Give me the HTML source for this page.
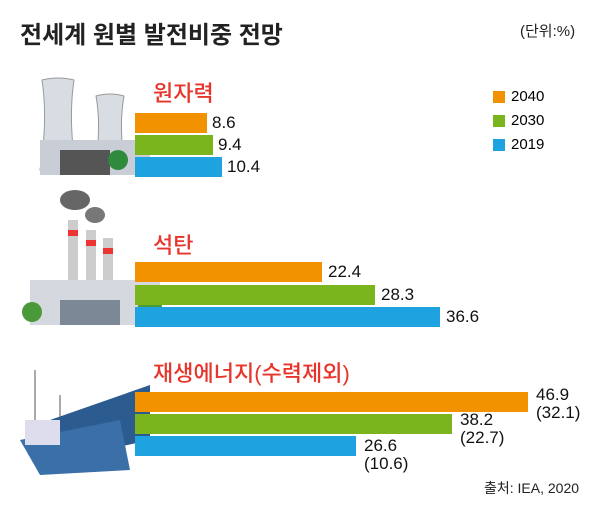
<!DOCTYPE html>
<html><head><meta charset="utf-8"><style>
body{margin:0;width:600px;height:510px;background:#fff;position:relative;overflow:hidden;font-family:"Liberation Sans","Noto Sans CJK KR",sans-serif;}
.a{position:absolute}
.bar{position:absolute;height:20px}
.o{background:#f39200}.g{background:#7ab51d}.b{background:#1ea2e0}
.lb{position:absolute;font-size:17px;color:#111;line-height:18px}
.t{position:absolute;font-size:22px;color:#e8352b;font-weight:500}
</style></head><body>
<div class="a" style="left:20px;top:15px;font-size:24px;font-weight:bold;color:#222">전세계 원별 발전비중 전망</div>
<div class="a" style="left:520px;top:20px;font-size:15px;color:#222">(단위:%)</div>

<div class="a" style="left:493px;top:91px;width:12px;height:12px;background:#f39200"></div>
<div class="a" style="left:511px;top:88px;font-size:15px">2040</div>
<div class="a" style="left:493px;top:115px;width:12px;height:12px;background:#7ab51d"></div>
<div class="a" style="left:511px;top:112px;font-size:15px">2030</div>
<div class="a" style="left:493px;top:139px;width:12px;height:12px;background:#1ea2e0"></div>
<div class="a" style="left:511px;top:136px;font-size:15px">2019</div>

<svg class="a" style="left:0;top:0" width="600" height="510">
<path d="M42 80 Q58 76 74 80 Q68 120 76 170 L40 170 Q48 120 42 80Z" fill="#d8dde3" stroke="#999"/>
<path d="M96 96 Q110 92 124 96 Q118 130 126 170 L94 170 Q102 130 96 96Z" fill="#d8dde3" stroke="#999"/>
<rect x="40" y="140" width="110" height="35" fill="#c9ced6"/>
<rect x="60" y="150" width="50" height="25" fill="#555"/>
<circle cx="118" cy="160" r="10" fill="#2f8a3b"/>
<ellipse cx="75" cy="200" rx="15" ry="10" fill="#666"/>
<ellipse cx="95" cy="215" rx="10" ry="8" fill="#777"/>
<rect x="68" y="220" width="10" height="70" fill="#ccc"/><rect x="68" y="230" width="10" height="6" fill="#e33"/>
<rect x="86" y="230" width="10" height="60" fill="#ccc"/><rect x="86" y="240" width="10" height="6" fill="#e33"/>
<rect x="103" y="238" width="10" height="52" fill="#ccc"/><rect x="103" y="248" width="10" height="6" fill="#e33"/>
<rect x="30" y="280" width="130" height="45" fill="#d5d9df"/>
<rect x="60" y="300" width="60" height="25" fill="#7d8896"/>
<circle cx="32" cy="312" r="10" fill="#4a9a3a"/><circle cx="150" cy="305" r="12" fill="#4a9a3a"/>
<line x1="35" y1="370" x2="35" y2="430" stroke="#aaa" stroke-width="2"/>
<line x1="60" y1="395" x2="60" y2="430" stroke="#aaa" stroke-width="2"/>
<polygon points="50,420 150,385 150,440 60,460" fill="#2c5b8f"/>
<polygon points="20,440 120,420 130,470 40,475" fill="#3a6fa8"/>
<rect x="25" y="420" width="35" height="25" fill="#dde"/>
</svg>

<div class="t" style="left:153px;top:76px">원자력</div>
<div class="bar o" style="left:135px;top:113px;width:72px"></div>
<div class="bar g" style="left:135px;top:135px;width:78px"></div>
<div class="bar b" style="left:135px;top:157px;width:87px"></div>
<div class="lb" style="left:212px;top:114px">8.6</div>
<div class="lb" style="left:218px;top:136px">9.4</div>
<div class="lb" style="left:227px;top:158px">10.4</div>

<div class="t" style="left:153px;top:228px">석탄</div>
<div class="bar o" style="left:135px;top:262px;width:187px"></div>
<div class="bar g" style="left:135px;top:285px;width:240px"></div>
<div class="bar b" style="left:135px;top:307px;width:305px"></div>
<div class="lb" style="left:328px;top:263px">22.4</div>
<div class="lb" style="left:381px;top:286px">28.3</div>
<div class="lb" style="left:446px;top:308px">36.6</div>

<div class="t" style="left:153px;top:356px">재생에너지(수력제외)</div>
<div class="bar o" style="left:135px;top:392px;width:393px"></div>
<div class="bar g" style="left:135px;top:414px;width:317px"></div>
<div class="bar b" style="left:135px;top:436px;width:221px"></div>
<div class="lb" style="left:536px;top:386px">46.9<br>(32.1)</div>
<div class="lb" style="left:460px;top:411px">38.2<br>(22.7)</div>
<div class="lb" style="left:364px;top:437px">26.6<br>(10.6)</div>

<div class="a" style="left:484px;top:478px;font-size:14px;color:#222">출처: IEA, 2020</div>
</body></html>
